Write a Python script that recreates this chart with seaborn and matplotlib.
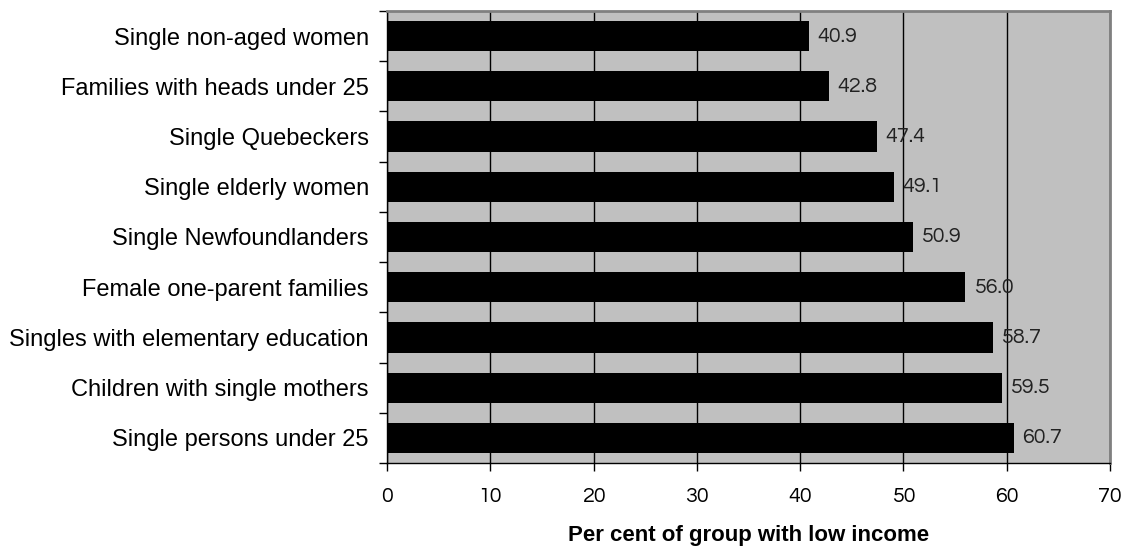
import matplotlib
matplotlib.use("Agg")
import matplotlib.pyplot as plt
from matplotlib import font_manager
import seaborn as sns
import pandas as pd
import numpy as np

categories = [
    "Single non-aged women",
    "Families with heads under 25",
    "Single Quebeckers",
    "Single elderly women",
    "Single Newfoundlanders",
    "Female one-parent families",
    "Singles with elementary education",
    "Children with single mothers",
    "Single persons under 25",
]
values = [40.9, 42.8, 47.4, 49.1, 50.9, 56.0, 58.7, 59.5, 60.7]
x_ticks = [0, 10, 20, 30, 40, 50, 60, 70]
x_label = "Per cent of group with low income"

available = {f.name for f in font_manager.fontManager.ttflist}


def pick(cands, default):
    for c in cands:
        if c in available:
            return c
    return default


gothic = pick(["Century Gothic", "URW Gothic", "URW Gothic L", "Questrial", "Didact Gothic",
               "TeX Gyre Adventor", "Poppins"], "DejaVu Sans")

df = pd.DataFrame({"category": categories, "value": values})

sns.set_theme(style="white")
plt.rcParams["font.family"] = ["Liberation Sans", "DejaVu Sans"]

fig = plt.figure(figsize=(11.26, 5.48), dpi=100)
ax = fig.add_axes([387 / 1126, 1 - 463 / 548, (1110 - 387) / 1126, (463 - 11) / 548])
ax.set_facecolor("#C0C0C0")

sns.barplot(data=df, x="value", y="category", orient="h", color="black",
            width=0.6, saturation=1, ax=ax, zorder=3, linewidth=0)

ax.set_xlim(0, 70)
ax.set_ylim(len(categories) - 0.5, -0.5)
ax.set_xticks(x_ticks)
ax.set_xticklabels([str(t) for t in x_ticks], family=[gothic, "DejaVu Sans"], fontsize=15.5, color="black")
ax.xaxis.grid(True, color="black", linewidth=1.0, zorder=1)
ax.yaxis.grid(False)
ax.set_axisbelow(True)

ax.set_yticks(range(len(categories)))
ax.set_yticklabels(categories, fontsize=17, color="black")
ax.set_yticks(np.arange(-0.5, len(categories), 1.0), minor=True)
ax.tick_params(axis="y", which="major", length=0, pad=13)
ax.tick_params(axis="y", which="minor", length=6, width=1, color="black", direction="out", left=True)
ax.tick_params(axis="x", which="major", length=6, width=1, color="black", direction="out", bottom=True, pad=11)

ax.set_ylabel("")
ax.set_xlabel(x_label, fontsize=16, fontweight="bold", labelpad=14, color="black")

for s in ["left", "bottom"]:
    ax.spines[s].set_color("black")
    ax.spines[s].set_linewidth(1.0)
for s in ["top", "right"]:
    ax.spines[s].set_color("#808080")
    ax.spines[s].set_linewidth(2.0)

for i, v in enumerate(values):
    ax.annotate(f"{v:.1f}", xy=(v, i), xytext=(6, 0), textcoords="offset points",
                va="center", ha="left", fontsize=15.5, family=[gothic, "DejaVu Sans"],
                color="#222222", zorder=4)

fig.savefig("out.png", dpi=100)
